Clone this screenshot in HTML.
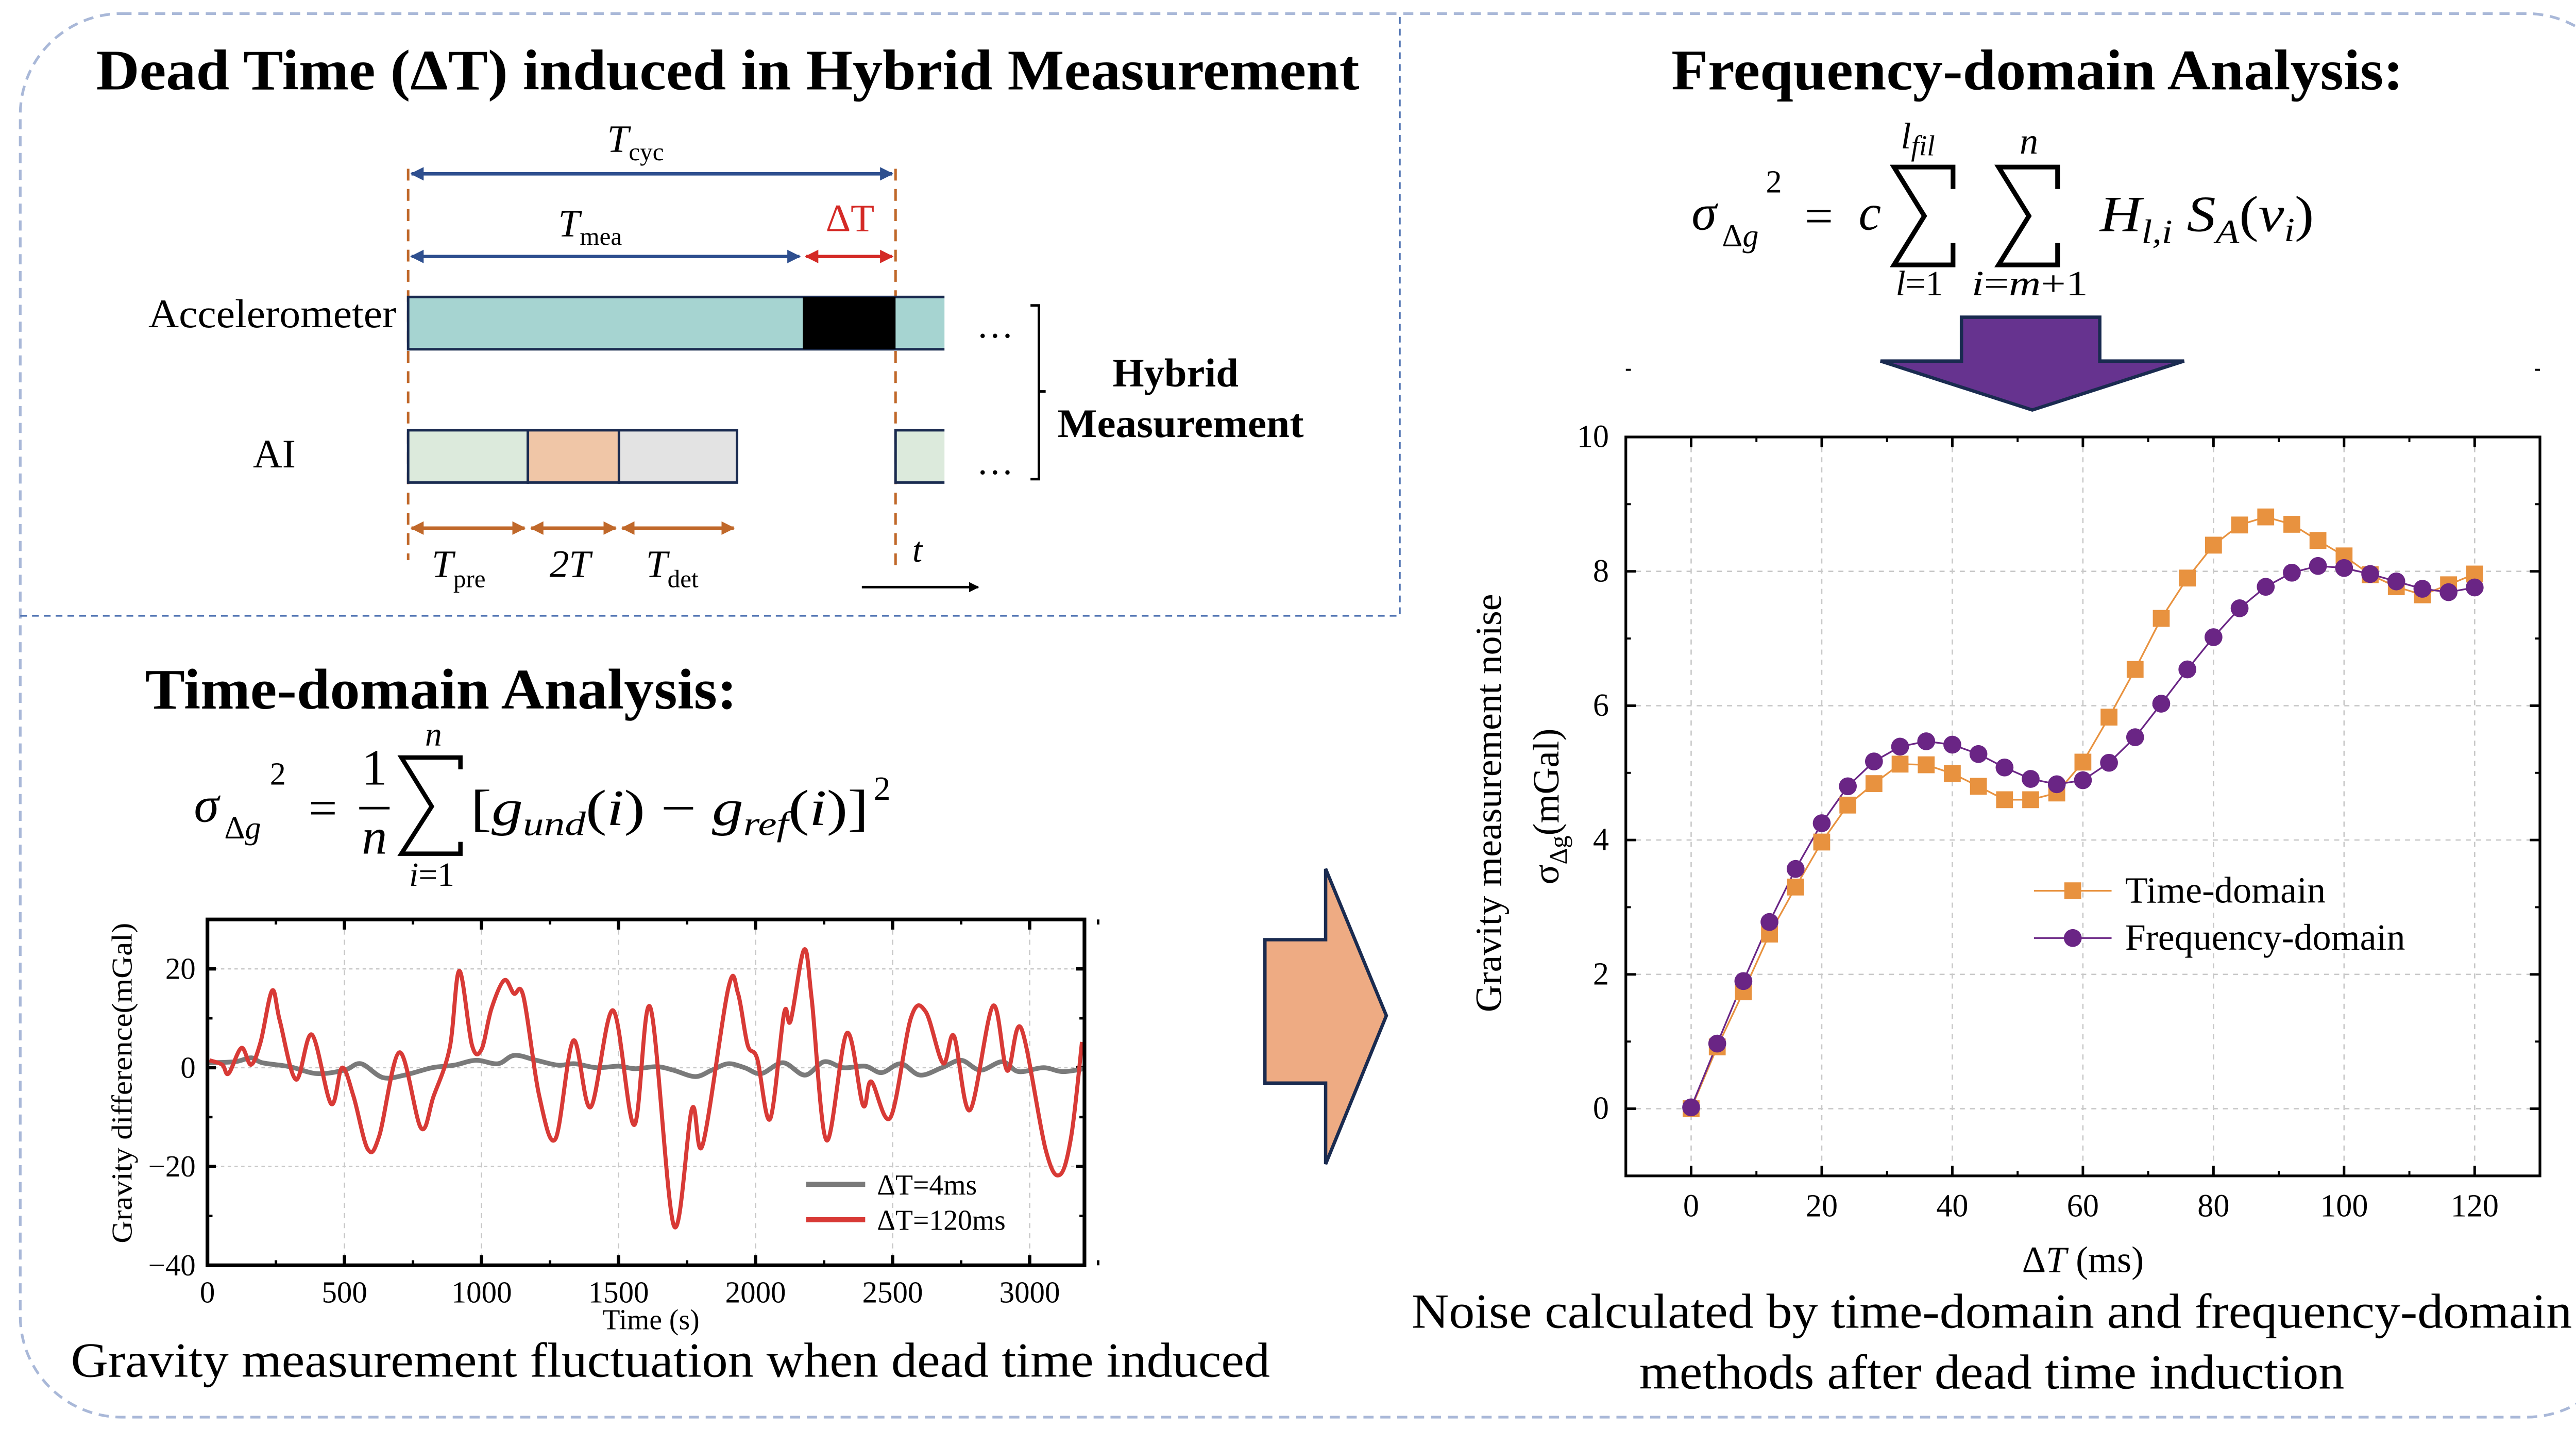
<!DOCTYPE html>
<html><head><meta charset="utf-8">
<style>
html,body{margin:0;padding:0;background:#fff;overflow:hidden;}
svg{display:block;font-family:"Liberation Serif",serif;}
</style></head>
<body>
<svg id="root" width="5133" height="2773" viewBox="0 0 1568 847" xmlns="http://www.w3.org/2000/svg">
<defs>
<marker id="ab" viewBox="0 0 10 10" refX="9" refY="5" markerWidth="4" markerHeight="4" orient="auto-start-reverse"><path d="M0,0L10,5L0,10z" fill="#2e4f8f"/></marker>
<marker id="ar" viewBox="0 0 10 10" refX="9" refY="5" markerWidth="4" markerHeight="4" orient="auto-start-reverse"><path d="M0,0L10,5L0,10z" fill="#d42a26"/></marker>
<marker id="ao" viewBox="0 0 10 10" refX="9" refY="5" markerWidth="4" markerHeight="4" orient="auto-start-reverse"><path d="M0,0L10,5L0,10z" fill="#c0682a"/></marker>
<marker id="ak" viewBox="0 0 10 10" refX="9" refY="5" markerWidth="4" markerHeight="4" orient="auto"><path d="M0,0L10,5L0,10z" fill="#000"/></marker>
</defs>
<rect x="12" y="8" width="1546" height="832" rx="60" fill="none" stroke="#a9b8d8" stroke-width="1.6" stroke-dasharray="6,4"/>
<path d="M12,365H830V8" fill="none" stroke="#4a6fb0" stroke-width="1" stroke-dasharray="4,3"/>

<!-- Top-left diagram -->
<text x="57" y="53" font-size="34" font-weight="bold" textLength="749" lengthAdjust="spacingAndGlyphs">Dead Time (ΔT) induced in Hybrid Measurement</text>
<g>
<line x1="242" y1="100" x2="242" y2="332" stroke="#c0682a" stroke-width="1.5" stroke-dasharray="7,5"/>
<line x1="531" y1="100" x2="531" y2="335" stroke="#c0682a" stroke-width="1.5" stroke-dasharray="7,5"/>
<line x1="244" y1="103" x2="529" y2="103" stroke="#2e4f8f" stroke-width="2" marker-start="url(#ab)" marker-end="url(#ab)"/>
<text x="360" y="90" font-size="23" font-style="italic">T<tspan font-size="15" font-style="normal" dy="5">cyc</tspan></text>
<line x1="244" y1="152" x2="474" y2="152" stroke="#2e4f8f" stroke-width="2" marker-start="url(#ab)" marker-end="url(#ab)"/>
<line x1="478" y1="152" x2="529" y2="152" stroke="#d42a26" stroke-width="2" marker-start="url(#ar)" marker-end="url(#ar)"/>
<text x="331" y="140" font-size="23" font-style="italic">T<tspan font-size="15" font-style="normal" dy="5">mea</tspan></text>
<text x="504" y="137" font-size="23" fill="#d42a26" text-anchor="middle">ΔT</text>
<text x="88" y="194" font-size="24" textLength="147" lengthAdjust="spacingAndGlyphs">Accelerometer</text>
<rect x="242" y="176" width="320" height="31" fill="#a6d4d1" stroke="#1a2b50" stroke-width="1.5"/>
<rect x="476" y="176" width="55" height="31" fill="#000"/>
<text x="590" y="200" font-size="22" text-anchor="middle">…</text>
<text x="150" y="277" font-size="24">AI</text>
<rect x="242" y="255" width="71" height="31" fill="#dceadc" stroke="#1a2b50" stroke-width="1.5"/>
<rect x="313" y="255" width="54" height="31" fill="#f0c6a7" stroke="#1a2b50" stroke-width="1.5"/>
<rect x="367" y="255" width="70" height="31" fill="#e3e3e3" stroke="#1a2b50" stroke-width="1.5"/>
<rect x="531" y="255" width="31" height="31" fill="#dceadc" stroke="#1a2b50" stroke-width="1.5"/>
<rect x="560" y="250" width="6" height="40" fill="#fff"/>
<rect x="560" y="172" width="6" height="40" fill="#fff"/>
<text x="590" y="281" font-size="22" text-anchor="middle">…</text>
<path d="M611,181h5v103h-5M616,232h4" fill="none" stroke="#000" stroke-width="1.5"/>
<text x="697" y="229" font-size="24" font-weight="bold" text-anchor="middle">Hybrid</text>
<text x="700" y="259" font-size="24" font-weight="bold" text-anchor="middle" textLength="146" lengthAdjust="spacingAndGlyphs">Measurement</text>
<line x1="244" y1="313" x2="311" y2="313" stroke="#c0682a" stroke-width="2" marker-start="url(#ao)" marker-end="url(#ao)"/>
<line x1="315" y1="313" x2="365" y2="313" stroke="#c0682a" stroke-width="2" marker-start="url(#ao)" marker-end="url(#ao)"/>
<line x1="369" y1="313" x2="435" y2="313" stroke="#c0682a" stroke-width="2" marker-start="url(#ao)" marker-end="url(#ao)"/>
<text x="256" y="342" font-size="23" font-style="italic">T<tspan font-size="15" font-style="normal" dy="6">pre</tspan></text>
<text x="338" y="342" font-size="23" font-style="italic" text-anchor="middle">2T</text>
<text x="383" y="342" font-size="23" font-style="italic">T<tspan font-size="15" font-style="normal" dy="6">det</tspan></text>
<text x="541" y="333" font-size="21" font-style="italic">t</text>
<line x1="511" y1="348" x2="580" y2="348" stroke="#000" stroke-width="1.5" marker-end="url(#ak)"/>
</g>

<!-- Time-domain formula -->
<text x="86" y="420" font-size="34" font-weight="bold" textLength="351" lengthAdjust="spacingAndGlyphs">Time-domain Analysis:</text>
<g font-size="30" font-style="italic">
<text x="115" y="487">σ</text>
<text x="133" y="497" font-size="19" font-style="normal">Δ<tspan font-style="italic">g</tspan></text>
<text x="160" y="465" font-size="19" font-style="normal">2</text>
<text x="183" y="489" font-style="normal">=</text>
<text x="222" y="465" font-style="normal" text-anchor="middle">1</text>
<line x1="213" y1="479" x2="231" y2="479" stroke="#000" stroke-width="1.5"/>
<text x="222" y="506" text-anchor="middle">n</text>
<path d="M273,456V449H238L256,478L238,506H273V499" fill="none" stroke="#000" stroke-width="2.6"/>
<text x="257" y="442" font-size="20" text-anchor="middle">n</text>
<text x="256" y="525" font-size="20" text-anchor="middle">i<tspan font-style="normal">=1</tspan></text>
<text x="279" y="489" textLength="236" lengthAdjust="spacingAndGlyphs"><tspan font-style="normal">[</tspan>g<tspan font-size="20" dy="6">und</tspan><tspan font-style="normal" dy="-6">(</tspan>i<tspan font-style="normal">) − </tspan>g<tspan font-size="20" dy="6">ref</tspan><tspan font-style="normal" dy="-6">(</tspan>i<tspan font-style="normal">)]</tspan></text>
<text x="518" y="474" font-size="20" font-style="normal">2</text>
</g>

<!-- Lower-left chart -->
<g id="c1"></g>
<text x="42" y="816" font-size="29" textLength="711" lengthAdjust="spacingAndGlyphs">Gravity measurement fluctuation when dead time induced</text>

<!-- Big orange arrow -->
<path d="M750,557H786V515L822,602L786,690V642H750Z" fill="#eeab83" stroke="#1a2b50" stroke-width="2"/>

<!-- Right side -->
<text x="991" y="53" font-size="34" font-weight="bold" textLength="434" lengthAdjust="spacingAndGlyphs">Frequency-domain Analysis:</text>
<g font-size="30" font-style="italic">
<text x="1003" y="136">σ</text>
<text x="1021" y="146" font-size="19" font-style="normal">Δ<tspan font-style="italic">g</tspan></text>
<text x="1047" y="114" font-size="19" font-style="normal">2</text>
<text x="1070" y="138" font-style="normal">=</text>
<text x="1102" y="136">c</text>
<path d="M1158,112V99H1123L1141,128L1123,157H1158V144" fill="none" stroke="#000" stroke-width="2.8"/>
<text x="1127" y="88" font-size="22">l<tspan font-size="17" dy="4">fil</tspan></text>
<text x="1124" y="175" font-size="21">l<tspan font-style="normal">=1</tspan></text>
<path d="M1220,112V99H1185L1203,128L1185,157H1220V144" fill="none" stroke="#000" stroke-width="2.8"/>
<text x="1203" y="91" font-size="22" text-anchor="middle">n</text>
<text x="1169" y="175" font-size="21" textLength="69" lengthAdjust="spacingAndGlyphs">i<tspan font-style="normal">=</tspan>m<tspan font-style="normal">+1</tspan></text>
<text x="1245" y="137" textLength="127" lengthAdjust="spacingAndGlyphs">H<tspan font-size="20" dy="7">l,i</tspan><tspan dy="-7"> S</tspan><tspan font-size="20" dy="7">A</tspan><tspan font-style="normal" dy="-7">(</tspan>ν<tspan font-size="20" dy="6">i</tspan><tspan font-style="normal" dy="-6">)</tspan></text>
</g>
<path d="M1163,188H1245V214H1295L1205,243L1115,214H1163Z" fill="#66338f" stroke="#1a2b50" stroke-width="2"/>

<g id="c2"></g>
<text x="837" y="787" font-size="29" textLength="688" lengthAdjust="spacingAndGlyphs">Noise calculated by time-domain and frequency-domain</text>
<text x="972" y="823" font-size="29" textLength="418" lengthAdjust="spacingAndGlyphs">methods after dead time induction</text>
</svg>

<script>
// ---- Chart 1 data ----
const redTimes = [7,54,77,124,159,194,236,264,323,381,451,491,533,585,627,701,779,825,884,919,965,1000,1036,1083,1118,1153,1211,1270,1335,1398,1480,1557,1616,1702,1768,1807,1901,1936,1971,2006,2053,2104,2128,2177,2205,2259,2333,2392,2422,2492,2567,2621,2684,2724,2782,2866,2918,2969,3058,3110,3152,3191];
const redValues = [1.5,0.6,-1.2,4,0.6,5.2,15.6,9.5,-2.4,6.7,-7.3,0,-5.8,-16.5,-13.8,3.1,-12.2,-5.8,4,19.6,4.6,3.7,11.9,17.7,15,14.4,-5.8,-14.4,5.5,-8,11.6,-11.6,12.2,-32,-8.3,-15.6,16.2,15,4.6,1.8,-10.4,11,9.5,23.9,13.8,-14.7,7,-7.6,-2.8,-10.1,10.1,11.3,0.9,6.4,-8.6,12.5,-0.6,8,-16.5,-21.7,-13.8,5.2];
const grayTimes = [0,100,160,200,300,400,500,560,640,720,820,900,980,1060,1120,1200,1280,1340,1420,1500,1560,1640,1700,1780,1840,1900,1960,2020,2100,2180,2250,2320,2400,2460,2530,2600,2680,2750,2820,2900,2960,3050,3120,3200];
const grayValues = [1,1.2,2,1,0.2,-1.2,-0.5,0.8,-2,-1.5,0,0.5,1.5,0.8,2.5,1.5,0.5,0.8,0,0.3,-0.2,0.2,-0.5,-1.8,-0.5,0.8,0,-1.2,1,-1.5,1.2,0,0.3,-1,0.8,-1.5,0,1.5,-0.5,1.2,-0.8,0,-0.8,-0.2];
const c1XTicks = [0,500,1000,1500,2000,2500,3000];
const c1YTicks = [-40,-20,0,20];
const c1Legend = ["ΔT=4ms","ΔT=120ms"];

// ---- Chart 2 data ----
const dtValues = [0,4,8,12,16,20,24,28,32,36,40,44,48,52,56,60,64,68,72,76,80,84,88,92,96,100,104,108,112,116,120];
const timeDomain = [0,0.92,1.74,2.6,3.3,3.97,4.52,4.84,5.13,5.12,4.99,4.8,4.6,4.6,4.7,5.16,5.83,6.54,7.3,7.9,8.39,8.69,8.81,8.7,8.46,8.23,7.95,7.77,7.65,7.8,7.96];
const freqDomain = [0.02,0.97,1.9,2.78,3.57,4.25,4.8,5.17,5.39,5.47,5.42,5.28,5.08,4.91,4.83,4.89,5.15,5.53,6.03,6.54,7.02,7.45,7.77,7.98,8.08,8.05,7.96,7.85,7.74,7.69,7.76];
const c2XTicks = [0,20,40,60,80,100,120];
const c2YTicks = [0,2,4,6,8,10];
const c2Legend = ["Time-domain","Frequency-domain"];

const NS = "http://www.w3.org/2000/svg";
function mk(parent, tag, attrs, text){
  const e = document.createElementNS(NS, tag);
  for (const k in attrs) e.setAttribute(k, attrs[k]);
  if (text !== undefined) e.textContent = text;
  parent.appendChild(e);
  return e;
}
function smoothPath(pts){
  let d = 'M' + pts[0][0] + ',' + pts[0][1];
  for (let i = 0; i < pts.length - 1; i++){
    const p0 = pts[i-1] || pts[i], p1 = pts[i], p2 = pts[i+1], p3 = pts[i+2] || p2;
    const c1x = p1[0] + (p2[0]-p0[0])/6, c1y = p1[1] + (p2[1]-p0[1])/6;
    const c2x = p2[0] - (p3[0]-p1[0])/6, c2y = p2[1] - (p3[1]-p1[1])/6;
    d += ' C' + c1x + ',' + c1y + ' ' + c2x + ',' + c2y + ' ' + p2[0] + ',' + p2[1];
  }
  return d;
}

// Chart 1
(function(){
  const g = document.getElementById('c1');
  const L=123, R=643, T=545, B=750;
  const x = t => L + (t-0)/(3200-0)*(R-L);
  const y = v => B - (v-(-40))/(30-(-40))*(B-T);
  c1XTicks.forEach(t=>{
    const gl = mk(g,'line',{x1:x(t),x2:x(t),y1:T,y2:B,stroke:'#c8c8c8','stroke-width':0.8,'stroke-dasharray':'3,3'});
    
    
    const tl = mk(g,'text',{x:x(t),y:B+22,'font-size':18,'text-anchor':'middle'},String(t));
    
    
    mk(g,'line',{x1:x(t),x2:x(t),y1:B,y2:B-6,stroke:'#000','stroke-width':2});
    mk(g,'line',{x1:x(t),x2:x(t),y1:T,y2:T+6,stroke:'#000','stroke-width':2});
    mk(g,'line',{x1:x(t+250),x2:x(t+250),y1:B,y2:B-3,stroke:'#000','stroke-width':1.5});
    mk(g,'line',{x1:x(t+250),x2:x(t+250),y1:T,y2:T+3,stroke:'#000','stroke-width':1.5});
  });
  c1YTicks.forEach(v=>{
    if (v>-40){
      const gl = mk(g,'line',{x1:L,x2:R,y1:y(v),y2:y(v),stroke:'#c8c8c8','stroke-width':0.8,'stroke-dasharray':'2,2'});
      
      
    }
    const tl = mk(g,'text',{x:L-7,y:y(v)+6,'font-size':18,'text-anchor':'end'},String(v).replace('-','−'));
    
    
    mk(g,'line',{x1:L,x2:L+5,y1:y(v),y2:y(v),stroke:'#000','stroke-width':2});
    mk(g,'line',{x1:R,x2:R-5,y1:y(v),y2:y(v),stroke:'#000','stroke-width':2});
    mk(g,'line',{x1:L,x2:L+3,y1:y(v+10),y2:y(v+10),stroke:'#000','stroke-width':1.5});
    mk(g,'line',{x1:R,x2:R-3,y1:y(v+10),y2:y(v+10),stroke:'#000','stroke-width':1.5});
  });
  const gp = mk(g,'path',{d:smoothPath(grayTimes.map((t,i)=>[x(t),y(grayValues[i])])),fill:'none',stroke:'#7a7a7a','stroke-width':2.8,'stroke-linejoin':'round'});
  
  
  const rp = mk(g,'path',{d:smoothPath(redTimes.map((t,i)=>[x(t),y(redValues[i])])),fill:'none',stroke:'#d83a36','stroke-width':2.4,'stroke-linejoin':'round'});
  
  
  const fr = mk(g,'rect',{x:L,y:T,width:R-L,height:B-T,fill:'none',stroke:'#000','stroke-width':2.2});
  
  
  const cols = ['#7a7a7a','#d83a36'];
  c1Legend.forEach((s,i)=>{
    const ly = 702 + i*21;
    const le = mk(g,'line',{x1:478,x2:513,y1:ly,y2:ly,stroke:cols[i],'stroke-width':3});
    
    
    const lt = mk(g,'text',{x:520,y:ly+6,'font-size':17},s);
    
    
  });
  const xt = mk(g,'text',{x:386,y:788,'font-size':17,'text-anchor':'middle'},'Time (s)');
  
  
  const yt = mk(g,'text',{x:0,y:0,'font-size':17,'text-anchor':'middle',textLength:190,lengthAdjust:'spacingAndGlyphs',transform:'translate(78,642) rotate(-90)'},'Gravity difference(mGal)');
  
  
})();

// Chart 2
(function(){
  const g = document.getElementById('c2');
  const L=964, R=1506, T=259, B=697;
  const x = t => L + (t-(-10))/(130-(-10))*(R-L);
  const y = v => B - (v-(-1))/(10-(-1))*(B-T);
  c2XTicks.forEach(t=>{
    const gl = mk(g,'line',{x1:x(t),x2:x(t),y1:T,y2:B,stroke:'#c8c8c8','stroke-width':0.8,'stroke-dasharray':'3,3'});
    
    
    const tl = mk(g,'text',{x:x(t),y:B+24,'font-size':19,'text-anchor':'middle'},String(t));
    
    
    mk(g,'line',{x1:x(t),x2:x(t),y1:B,y2:B-6,stroke:'#000','stroke-width':1.5});
    mk(g,'line',{x1:x(t),x2:x(t),y1:T,y2:T+6,stroke:'#000','stroke-width':1.5});
    mk(g,'line',{x1:x(t+10),x2:x(t+10),y1:B,y2:B-3,stroke:'#000','stroke-width':1.2});
    mk(g,'line',{x1:x(t+10),x2:x(t+10),y1:T,y2:T+3,stroke:'#000','stroke-width':1.2});
  });
  c2YTicks.forEach(v=>{
    if (v<10){
      const gl = mk(g,'line',{x1:L,x2:R,y1:y(v),y2:y(v),stroke:'#c8c8c8','stroke-width':0.8,'stroke-dasharray':'3,3'});
      
      
    }
    const tl = mk(g,'text',{x:L-10,y:y(v)+6,'font-size':19,'text-anchor':'end'},String(v));
    
    
    mk(g,'line',{x1:L,x2:L+6,y1:y(v),y2:y(v),stroke:'#000','stroke-width':1.5});
    mk(g,'line',{x1:R,x2:R-6,y1:y(v),y2:y(v),stroke:'#000','stroke-width':1.5});
    mk(g,'line',{x1:L,x2:L+3,y1:y(v+1),y2:y(v+1),stroke:'#000','stroke-width':1.2});
    mk(g,'line',{x1:R,x2:R-3,y1:y(v+1),y2:y(v+1),stroke:'#000','stroke-width':1.2});
  });
  const OR='#e8923f', PU='#6a2585';
  const tl1 = mk(g,'polyline',{points:dtValues.map((t,i)=>x(t)+','+y(timeDomain[i])).join(' '),fill:'none',stroke:OR,'stroke-width':1});
  
  
  const tl2 = mk(g,'polyline',{points:dtValues.map((t,i)=>x(t)+','+y(freqDomain[i])).join(' '),fill:'none',stroke:PU,'stroke-width':1});
  
  
  dtValues.forEach((t,i)=>{
    const s = mk(g,'rect',{x:x(t)-5,y:y(timeDomain[i])-5,width:10,height:10,fill:OR});
    
    
  });
  dtValues.forEach((t,i)=>{
    const c = mk(g,'circle',{cx:x(t),cy:y(freqDomain[i]),r:5.3,fill:PU});
    
    
  });
  const fr = mk(g,'rect',{x:L,y:T,width:R-L,height:B-T,fill:'none',stroke:'#000','stroke-width':1.6});
  
  
  [OR,PU].forEach((col,i)=>{
    const ly = 528 + i*28;
    const le = mk(g,'line',{x1:1206,x2:1252,y1:ly,y2:ly,stroke:col,'stroke-width':1});
    
    
    if (i===0) mk(g,'rect',{x:1224,y:ly-5,width:10,height:10,fill:col});
    else mk(g,'circle',{cx:1229,cy:ly,r:5.3,fill:col});
    const lt = mk(g,'text',{x:1260,y:ly+7,'font-size':22},c2Legend[i]);
    
    
  });
  const xt = mk(g,'text',{x:1235,y:754,'font-size':22,'text-anchor':'middle'},'');
  xt.innerHTML = 'Δ<tspan font-style="italic">T</tspan> (ms)';
  
  
  const yt = mk(g,'text',{x:0,y:0,'font-size':22,'text-anchor':'middle',textLength:248,lengthAdjust:'spacingAndGlyphs',transform:'translate(890,476) rotate(-90)'},'Gravity measurement noise');
  
  
  const yt2 = mk(g,'text',{x:0,y:0,'font-size':22,'text-anchor':'middle',transform:'translate(924,478) rotate(-90)'},'');
  yt2.innerHTML = 'σ<tspan font-size="15" dy="5">Δg</tspan><tspan dy="-5">(mGal)</tspan>';
  
  
})();
</script>
</body></html>
